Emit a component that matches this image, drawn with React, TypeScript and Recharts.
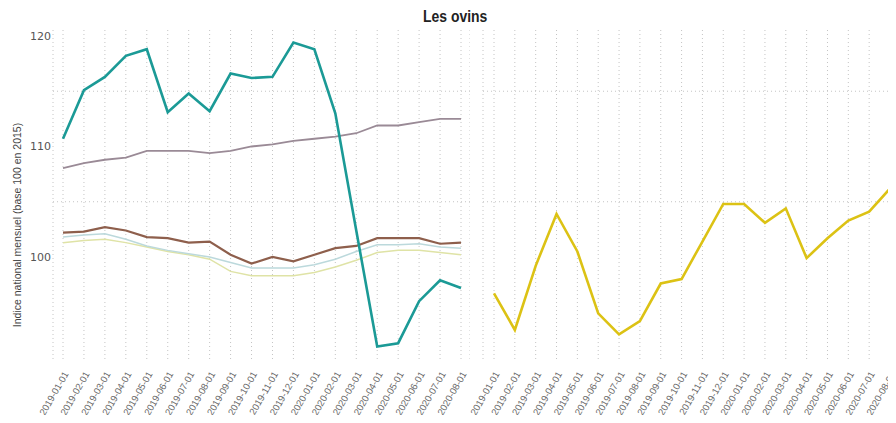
import { LineChart, Line, XAxis, YAxis, CartesianGrid, ReferenceLine } from 'recharts';

const months = [
  '2019-01-01', '2019-02-01', '2019-03-01', '2019-04-01', '2019-05-01',
  '2019-06-01', '2019-07-01', '2019-08-01', '2019-09-01', '2019-10-01',
  '2019-11-01', '2019-12-01', '2020-01-01', '2020-02-01', '2020-03-01',
  '2020-04-01', '2020-05-01', '2020-06-01', '2020-07-01', '2020-08-01',
];

// left panel
const teal = [110.7, 115.1, 116.3, 118.2, 118.8, 113.1, 114.8, 113.2, 116.6, 116.2, 116.3, 119.4, 118.8, 113.0, 102.4, 91.9, 92.2, 96.0, 97.9, 97.2];
const mauve = [108.05, 108.5, 108.8, 109.0, 109.6, 109.6, 109.6, 109.4, 109.6, 110.0, 110.2, 110.5, 110.7, 110.9, 111.2, 111.9, 111.9, 112.2, 112.5, 112.5];
const brown = [102.2, 102.3, 102.7, 102.4, 101.8, 101.7, 101.3, 101.4, 100.2, 99.4, 100.0, 99.6, 100.2, 100.8, 101.0, 101.7, 101.7, 101.7, 101.2, 101.3];
const lightBlue = [101.8, 102.0, 102.1, 101.6, 101.0, 100.6, 100.3, 100.0, 99.5, 99.0, 99.0, 99.0, 99.3, 99.8, 100.5, 101.1, 101.1, 101.2, 100.9, 100.8];
const paleGreen = [101.3, 101.5, 101.6, 101.3, 100.9, 100.5, 100.2, 99.8, 98.7, 98.3, 98.3, 98.3, 98.6, 99.1, 99.7, 100.4, 100.6, 100.6, 100.4, 100.2];

// right panel
const yellow = [96.7, 93.4, 99.2, 103.9, 100.5, 94.9, 93.0, 94.2, 97.6, 98.0, 101.4, 104.8, 104.8, 103.1, 104.4, 99.9, 101.7, 103.3, 104.1, 106.2];

const yTicks = [100, 110, 120];
const minorLines = [105, 115];

const leftData = months.map((m, i) => ({
  m, teal: teal[i], mauve: mauve[i], brown: brown[i], lightBlue: lightBlue[i], paleGreen: paleGreen[i],
}));
const rightData = months.map((m, i) => ({ m, yellow: yellow[i] }));

const DOMAIN: [number, number] = [90.68, 120.54];
const GRID = '#c4c4c4';

function DateTick({ x, y, payload }: any) {
  const tx = x + 6;
  const ty = y + 6;
  return (
    <text
      x={tx}
      y={ty}
      transform={`rotate(-60, ${tx}, ${ty})`}
      textAnchor="end"
      fontSize={9.5}
      fill="#666"
      fontFamily="'Liberation Sans', Arial, sans-serif"
    >
      {payload.value}
    </text>
  );
}

export default function App() {
  return (
    <div style={{ position: 'relative', width: 896, height: 423, margin: -8, background: '#fff', overflow: 'hidden' }}>
      <div style={{ position: 'absolute', left: 0, top: 0 }}>
        <LineChart width={470} height={423} data={leftData} margin={{ top: 30, right: 0, bottom: 0, left: 0 }}>
          <CartesianGrid horizontal={false} stroke={GRID} strokeDasharray="1 3" />
          {minorLines.map((v) => (
            <ReferenceLine key={v} y={v} stroke={GRID} strokeDasharray="1 3" />
          ))}
          <XAxis
            dataKey="m"
            interval={0}
            padding={{ left: 10, right: 9 }}
            axisLine={false}
            tickLine={false}
            tick={<DateTick />}
            height={63}
          />
          <YAxis
            domain={DOMAIN}
            ticks={yTicks}
            width={53}
            axisLine={false}
            tickLine={false}
            tickSize={0}
            tickMargin={2}
            tick={{ fontSize: 11, fill: '#555', fontFamily: "'DejaVu Sans', sans-serif" }}
            label={{
              content: () => (
                <text
                  x={21}
                  y={225}
                  transform="rotate(-90, 21, 225)"
                  textAnchor="middle"
                  fontSize={10.5}
                  fill="#444"
                  fontFamily="'Liberation Sans', Arial, sans-serif"
                >
                  Indice national mensuel (base 100 en 2015)
                </text>
              ),
            }}
          />
          <Line dataKey="paleGreen" stroke="#dfe3a6" strokeWidth={1.5} dot={false} isAnimationActive={false} />
          <Line dataKey="lightBlue" stroke="#bcd9dc" strokeWidth={1.5} dot={false} isAnimationActive={false} />
          <Line dataKey="mauve" stroke="#9a8a96" strokeWidth={1.8} dot={false} isAnimationActive={false} />
          <Line dataKey="brown" stroke="#8e5f4c" strokeWidth={2.2} dot={false} isAnimationActive={false} />
          <Line dataKey="teal" stroke="#1b9a96" strokeWidth={2.6} dot={false} isAnimationActive={false} />
        </LineChart>
      </div>
      <div style={{ position: 'absolute', left: 462, top: 0 }}>
        <LineChart width={434} height={423} data={rightData} margin={{ top: 30, right: 0, bottom: 0, left: 21 }}>
          <CartesianGrid horizontal={false} stroke={GRID} strokeDasharray="1 3" />
          {minorLines.map((v) => (
            <ReferenceLine key={v} y={v} stroke={GRID} strokeDasharray="1 3" />
          ))}
          <XAxis
            dataKey="m"
            interval={0}
            padding={{ left: 11, right: 6 }}
            axisLine={false}
            tickLine={false}
            tick={<DateTick />}
            height={63}
          />
          <YAxis hide domain={DOMAIN} ticks={yTicks} />
          <Line dataKey="yellow" stroke="#dcc214" strokeWidth={2.6} dot={false} isAnimationActive={false} />
        </LineChart>
      </div>
      <div
        style={{
          position: 'absolute', left: 0, width: 910, top: 7, textAlign: 'center',
          fontFamily: "'Liberation Sans', Arial, sans-serif",
          fontWeight: 'bold', fontSize: 17, color: '#222',
        }}
      >
        <span style={{ display: 'inline-block', transform: 'scaleX(0.82)' }}>Les ovins</span>
      </div>
    </div>
  );
}
